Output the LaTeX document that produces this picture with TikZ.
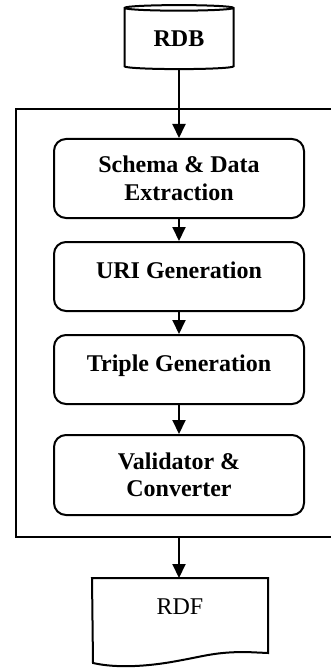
\documentclass[tikz,border=0pt]{standalone}
\usepackage{fontspec}
\setmainfont{Liberation Serif}
\usetikzlibrary{arrows.meta,shapes.geometric}
\newcommand{\unitsize}{0.5pt}
\newcommand{\boldtext}{\fontsize{12}{13.75}\selectfont\bfseries}
\tikzset{
	procbox/.style={draw, rounded corners=6pt, minimum width=125pt, inner sep=2pt, font=\boldtext},
	dbshape/.style={draw, cylinder, shape border rotate=90, aspect=0.11, minimum width=54.5pt, minimum height=32pt, inner sep=0pt, font=\boldtext},
	flow/.style={-{Triangle[width=6.5pt,length=7pt]}}
}

\begin{document}
\begin{tikzpicture}[x=\unitsize,y=-\unitsize,line width=1pt,font=\fontsize{12}{14}\selectfont]
	\useasboundingbox (0,0) rectangle (331,668);

	\node[dbshape] (rdb) at (179,39) {RDB};

	% pipeline frame, open on the right
	\draw (331,109) -- (16,109) -- (16,537) -- (331,537);
	\coordinate (frameout) at (179,537);

	\node[procbox, minimum height=39.5pt, align=center] (extract) at (179,178.5) {Schema \& Data\\Extraction};
	\node[procbox, minimum height=34.5pt, text depth=6pt] (urigen) at (179,276.5) {URI Generation};
	\node[procbox, minimum height=34.5pt, text depth=6pt] (triplegen) at (179,369.5) {Triple Generation};
	\node[procbox, minimum height=40pt, align=center] (convert) at (179,475) {Validator \&\\Converter};

	% output document
	\node[minimum width=87pt, minimum height=36.5pt, text depth=8.5pt] (rdf) at (180,615.5) {RDF};
	\draw (rdf.north west) -- (rdf.north east) -- (rdf.south east) -- (246,652) .. controls (215,652) and (205,656) .. (177,661) .. controls (145,667) and (115,668) .. (93,663) -- cycle;

	\draw[flow] (rdb.south) -- (extract.north);
	\draw[flow] (extract) -- (urigen);
	\draw[flow] (urigen) -- (triplegen);
	\draw[flow] (triplegen) -- (convert);
	\draw[flow] (frameout) -- (frameout |- rdf.north);
\end{tikzpicture}
\end{document}
